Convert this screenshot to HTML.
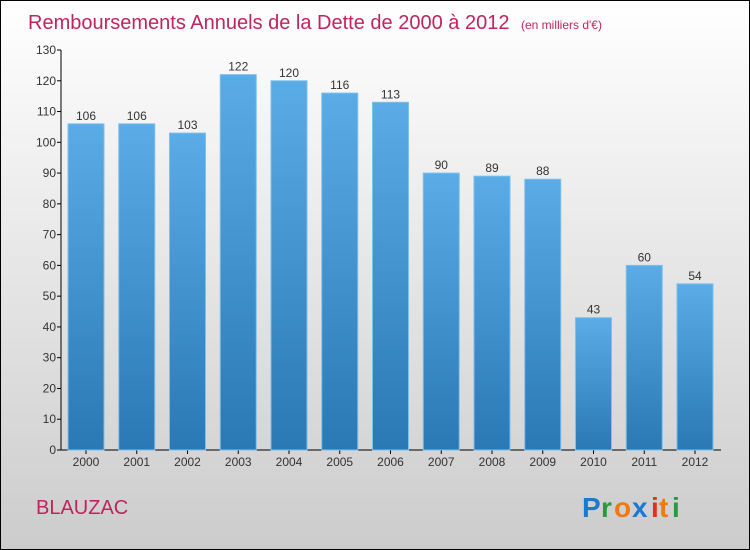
<!DOCTYPE html>
<html><head><meta charset="utf-8"><style>
body{margin:0}
svg{display:block;font-family:"Liberation Sans",sans-serif}
</style></head><body>
<svg width="750" height="550">
<defs>
<linearGradient id="bg" x1="0" y1="0" x2="0" y2="1"><stop offset="0" stop-color="#ffffff"/><stop offset="1" stop-color="#cccccc"/></linearGradient>
<linearGradient id="bar" x1="0" y1="0" x2="0" y2="1"><stop offset="0" stop-color="#5aace6"/><stop offset="1" stop-color="#2a78b4"/></linearGradient>
</defs>
<rect x="0.5" y="0.5" width="749" height="549" fill="url(#bg)" stroke="#000"/>
<text x="28" y="29" font-size="20" fill="#c0245e">Remboursements Annuels de la Dette de 2000 à 2012 <tspan font-size="12" dx="6">(en milliers d'€)</tspan></text>
<g id="axes"></g>
<g id="bars"></g>
<text x="36" y="514" font-size="20" fill="#c0245e">BLAUZAC</text>
<g font-size="28" font-weight="bold">
<text x="582" y="517" fill="#1a7ad0">P</text><text x="601" y="517" fill="#2a9a40">r</text><text x="614" y="517" fill="#f07a10">o</text><text x="632" y="517" fill="#1a7ad0">x</text><text x="651" y="517" fill="#e03020">i</text><text x="659" y="517" fill="#f07a10">t</text><text x="672" y="517" fill="#2a9a40">i</text>
</g>
</svg>
<script>
const categories=["2000","2001","2002","2003","2004","2005","2006","2007","2008","2009","2010","2011","2012"];
const values=[106,106,103,122,120,116,113,90,89,88,43,60,54];
const yTicks=[0,10,20,30,40,50,60,70,80,90,100,110,120,130];
const NS="http://www.w3.org/2000/svg";
const y=v=>450-v*400/130;
const x=i=>86+i*50.75;
function mk(t,a,p){const e=document.createElementNS(NS,t);for(const k in a)e.setAttribute(k,a[k]);p.appendChild(e);return e;}
const ax=document.getElementById('axes'),bg=document.getElementById('bars');
let l=mk('line',{x1:61,y1:50,x2:61,y2:450,stroke:'#000'},ax);


l=mk('line',{x1:61,y1:450,x2:721,y2:450,stroke:'#000'},ax);


yTicks.forEach(v=>{
 mk('line',{x1:57,x2:61,y1:y(v),y2:y(v),stroke:'#000'},ax);
 const t=mk('text',{x:56,y:y(v)+4,'text-anchor':'end','font-size':12,fill:'#333'},ax);
 t.textContent=v;
 
 
});
categories.forEach((c,i)=>{
 const r=mk('rect',{x:x(i)-18,y:y(values[i]),width:36,height:450-y(values[i]),fill:'url(#bar)',stroke:'#7cc0ee','stroke-width':1},bg);
 
 
 const t=mk('text',{x:x(i),y:y(values[i])-4,'text-anchor':'middle','font-size':12,fill:'#333'},bg);
 t.textContent=values[i];
 
 
 mk('line',{x1:x(i),x2:x(i),y1:450,y2:454,stroke:'#000'},ax);
 const xl=mk('text',{x:x(i),y:466,'text-anchor':'middle','font-size':12,fill:'#333'},ax);
 xl.textContent=c;
 
 
});
</script>
</body></html>
